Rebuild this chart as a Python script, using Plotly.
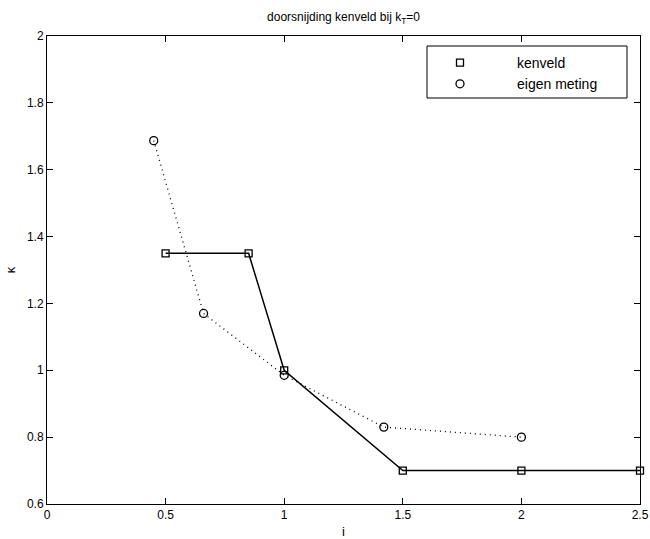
import plotly.graph_objects as go

# data
kenveld_i = [0.5, 0.85, 1.0, 1.5, 2.0, 2.5]
kenveld_k = [1.35, 1.35, 1.0, 0.7, 0.7, 0.7]
meting_i = [0.45, 0.66, 1.0, 1.42, 2.0]
meting_k = [1.687, 1.17, 0.985, 0.83, 0.80]
x_ticks = [0, 0.5, 1, 1.5, 2, 2.5]
y_ticks = [0.6, 0.8, 1.0, 1.2, 1.4, 1.6, 1.8, 2.0]

FONT = "Liberation Sans, Arial, Helvetica, sans-serif"
W, H = 650, 539
L, R, T, B = 47, 640, 36, 504
pw = R - L
ph = B - T

fig = go.Figure()
fig.add_trace(go.Scatter(
    x=kenveld_i, y=kenveld_k, mode="lines+markers", showlegend=False,
    line=dict(color="black", width=1.5),
    marker=dict(symbol="square-open", size=7, color="black", line=dict(width=1.3)),
    cliponaxis=False))
fig.add_trace(go.Scatter(
    x=meting_i, y=meting_k, mode="lines+markers", showlegend=False,
    line=dict(color="black", width=1.3, dash="1px,4px"),
    marker=dict(symbol="circle-open", size=8, color="black", line=dict(width=1.3)),
    cliponaxis=False))
# legend entries (markers only, as in the reference)
fig.add_trace(go.Scatter(
    x=[None], y=[None], mode="markers", name="kenveld",
    marker=dict(symbol="square-open", size=7, color="black", line=dict(width=1.3))))
fig.add_trace(go.Scatter(
    x=[None], y=[None], mode="markers", name="eigen meting",
    marker=dict(symbol="circle-open", size=8, color="black", line=dict(width=1.3))))

axis_common = dict(
    showline=True, linecolor="black", linewidth=1, mirror="ticks",
    ticks="inside", ticklen=6, tickcolor="black", tickwidth=1,
    showgrid=False, zeroline=False, automargin=False,
    tickfont=dict(family=FONT, size=12, color="black"),
)

fig.update_layout(
    width=W, height=H,
    margin=dict(l=L, r=W - R, t=T, b=H - B),
    paper_bgcolor="white", plot_bgcolor="white",
    font=dict(family=FONT, color="black", size=12),
    title=dict(text="doorsnijding kenveld bij k<sub>T</sub>=0",
               x=(L + R) / 2 / W, xanchor="center",
               y=1 - 17 / H, yanchor="middle",
               font=dict(family=FONT, size=12, color="black")),
    xaxis=dict(range=[0, 2.5], tickvals=x_ticks,
               title=dict(text="i", standoff=6, font=dict(family=FONT, size=13)),
               **axis_common),
    yaxis=dict(range=[0.6, 2.0], tickvals=y_ticks,
               title=dict(text="κ", standoff=8, font=dict(family=FONT, size=13)),
               **axis_common),
    legend=dict(x=(403 - L) / pw, xanchor="left", y=(B - 47) / ph, yanchor="top",
                borderwidth=0, bgcolor="rgba(0,0,0,0)",
                itemwidth=104, tracegroupgap=0,
                font=dict(family=FONT, size=14, color="black")),
    shapes=[dict(type="rect", xref="paper", yref="paper", layer="above",
                 x0=(427 - L) / pw, x1=(627 - L) / pw,
                 y0=(B - 98) / ph, y1=(B - 46) / ph,
                 line=dict(color="black", width=1), fillcolor="white")],
)

fig.write_html(
    "out.html",
    config={"displayModeBar": False},
    post_script="document.body.style.margin='0';document.body.style.overflow='hidden';",
)
